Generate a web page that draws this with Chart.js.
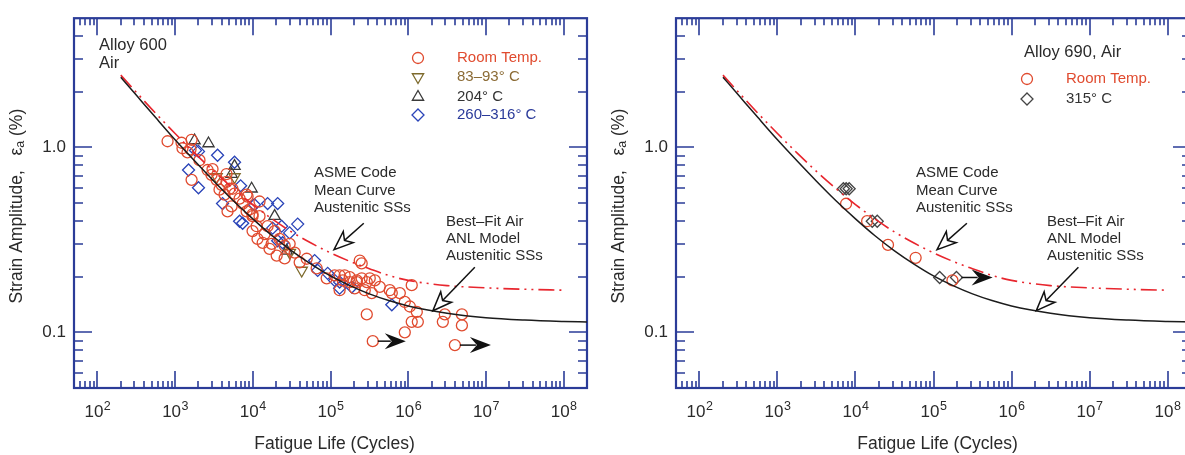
<!DOCTYPE html>
<html><head><meta charset="utf-8">
<script src="https://cdn.jsdelivr.net/npm/chart.js@4.4.1/dist/chart.umd.min.js"></script>
<style>
html,body{margin:0;padding:0;background:#fff;overflow:hidden;width:1185px;height:455px;}
#c1{position:absolute;left:0;top:0;}
#c2{position:absolute;left:590px;top:0;}
</style></head><body>
<canvas id="c1" width="600" height="455"></canvas>
<canvas id="c2" width="610" height="455"></canvas>
<script>
// ---------- axis ticks ----------
const xTickValues = [1e2, 1e3, 1e4, 1e5, 1e6, 1e7, 1e8];
const xTickExponents = ['2', '3', '4', '5', '6', '7', '8'];
const yTickValues = [0.1, 1];
const yTickLabels = ['0.1', '1.0'];
const X_MIN = 50, X_MAX = 2e8, Y_MIN = 0.05, Y_MAX = 5;

// ---------- curves ----------
const bestFitN = [200, 316, 562, 1000, 1778, 3162, 5623, 1e4, 17783, 31623, 56234, 1e5, 177828, 316228, 562341, 1e6, 3.16e6, 1e7, 3.16e7, 1e8, 2e8];
const bestFitStrain = [2.40, 1.92, 1.45, 1.10, 0.847, 0.657, 0.515, 0.411, 0.333, 0.276, 0.234, 0.202, 0.179, 0.1615, 0.1486, 0.139, 0.127, 0.120, 0.1165, 0.1145, 0.1137];
const asmeN = [200, 316, 562, 1000, 1778, 3162, 5623, 1e4, 17783, 31623, 56234, 1e5, 177828, 316228, 562341, 1e6, 3.16e6, 1e7, 3.16e7, 1e8];
const asmeStrain = [2.46, 1.99, 1.53, 1.19, 0.934, 0.742, 0.599, 0.491, 0.410, 0.349, 0.304, 0.269, 0.242, 0.221, 0.203, 0.191, 0.179, 0.174, 0.171, 0.169];

// ---------- Alloy 600 data ----------
const a600Labels = ['Room Temp.', '83\u201393\u00b0 C', '204\u00b0 C', '260\u2013316\u00b0 C'];
const a600RoomN = [800, 1210, 1245, 1445, 1630, 1580, 1630, 2620, 2940, 3420, 3960, 4590, 5020, 3730, 4330, 5820, 6760, 4730, 5330, 8320, 7400, 9100, 9930, 11200, 8320, 12200, 14200, 11500, 17500, 9930, 29800, 34600, 49400, 40100, 66400, 89300, 113000, 144000, 177000, 218000, 238000, 252000, 131000, 131000, 152000, 177000, 218000, 252000, 293000, 320000, 372000, 431000, 205000, 276000, 340000, 579000, 615000, 780000, 1.11e6, 904000, 1.05e6, 1.29e6, 1.33e6, 1.11e6, 904000, 293000, 2.96e6, 2.79e6, 4.91e6, 4.91e6, 350000, 3.99e6, 15500, 19100, 22100, 25700, 13400, 16400, 20300, 25700, 2060, 3030, 4590, 8570, 12200, 9930, 5470];
const a600RoomStrain = [1.08, 1.06, 0.99, 0.94, 1.10, 0.976, 0.668, 0.755, 0.71, 0.668, 0.628, 0.652, 0.598, 0.591, 0.556, 0.562, 0.529, 0.451, 0.48, 0.556, 0.497, 0.462, 0.425, 0.375, 0.451, 0.425, 0.34, 0.32, 0.301, 0.353, 0.301, 0.27, 0.25, 0.239, 0.222, 0.196, 0.2035, 0.191, 0.187, 0.187, 0.2445, 0.236, 0.169, 0.2035, 0.2035, 0.199, 0.191, 0.196, 0.187, 0.196, 0.191, 0.176, 0.173, 0.169, 0.163, 0.169, 0.163, 0.163, 0.18, 0.146, 0.138, 0.129, 0.114, 0.114, 0.1, 0.125, 0.125, 0.114, 0.125, 0.109, 0.0896, 0.0853, 0.375, 0.353, 0.32, 0.294, 0.305, 0.283, 0.26, 0.251, 0.853, 0.764, 0.718, 0.542, 0.51, 0.435, 0.598];
const a600T83N = [3420, 5820, 42600, 30000];
const a600T83Strain = [0.692, 0.692, 0.216, 0.27];
const a600T204N = [2690, 1780, 5330, 5820, 9660, 19100, 27300];
const a600T204Strain = [1.05, 1.09, 0.718, 0.792, 0.598, 0.425, 0.276];
const a600T260N = [2000, 1830, 3520, 1490, 2000, 5820, 6970, 4080, 6760, 10500, 15500, 20900, 7400, 23500, 37800, 29800, 24200, 20900, 18000, 62500, 92000, 131000, 188000, 68400, 113000, 131000, 615000];
const a600T260Strain = [0.952, 0.964, 0.907, 0.755, 0.605, 0.832, 0.62, 0.497, 0.399, 0.49, 0.497, 0.497, 0.389, 0.375, 0.385, 0.345, 0.305, 0.313, 0.366, 0.2445, 0.2085, 0.187, 0.1757, 0.2163, 0.191, 0.1734, 0.1409];
const a600RunoutFromN = [350000, 3.99e6];
const a600RunoutToN = [931000, 1.16e7];
const a600RunoutStrain = [0.0896, 0.0853];

// ---------- Alloy 690 data ----------
const a690Labels = ['Room Temp.', '315\u00b0 C'];
const a690RoomN = [7570, 14100, 26100, 59000, 175000];
const a690RoomStrain = [0.496, 0.399, 0.297, 0.253, 0.191];
const a690T315N = [7000, 7600, 8300, 16400, 19000, 120000, 197000];
const a690T315Strain = [0.598, 0.598, 0.598, 0.399, 0.399, 0.198, 0.198];
const a690RunoutFromN = [197000];
const a690RunoutToN = [573000];
const a690RunoutStrain = [0.198];

// ---------- annotation arrows (data space) ----------
const asmeArrow = [[268000, 0.389], [111000, 0.280]];
const fitArrow = [[7.2e6, 0.225], [2.08e6, 0.131]];

// ---------- styling ----------
const FONTFAM = '"Liberation Sans", Arial, Helvetica, sans-serif';
const BLUE = '#2b3c98';
const RED = '#e04b2f';
const TXT = '#2a2a2a';
function font(sz) { return sz + 'px ' + FONTFAM; }
function zip(a, b) { return a.map((v, i) => ({x: v, y: b[i]})); }

function drawSymbol(ctx, style, x, y, r, rot, color) {
  ctx.save();
  ctx.strokeStyle = color; ctx.lineWidth = 1.3;
  ctx.beginPath();
  if (style === 'circle') { ctx.arc(x, y, r, 0, Math.PI * 2); }
  else if (style === 'rectRot') { ctx.moveTo(x, y - r); ctx.lineTo(x + r, y); ctx.lineTo(x, y + r); ctx.lineTo(x - r, y); ctx.closePath(); }
  else if (style === 'triangle') {
    const s = rot ? -1 : 1;
    for (let i = 0; i < 3; i++) {
      const ang = -Math.PI / 2 + i * 2 * Math.PI / 3;
      const px = x + r * Math.cos(ang), py = y + s * r * Math.sin(ang);
      if (i === 0) ctx.moveTo(px, py); else ctx.lineTo(px, py);
    }
    ctx.closePath();
  }
  ctx.stroke();
  ctx.restore();
}

const decorPlugin = {
  id: 'decor',
  beforeDatasetsDraw(chart, args, o) {
    const ctx = chart.ctx, a = chart.chartArea, xs = chart.scales.x, ys = chart.scales.y;
    ctx.save();
    ctx.strokeStyle = BLUE; ctx.lineWidth = 1.6; ctx.lineCap = 'butt';
    for (let d = 1; d <= 8; d++) for (let k = 1; k <= 9; k++) {
      const v = k * Math.pow(10, d);
      if (v <= X_MIN * 1.001 || v >= X_MAX * 0.999) continue;
      const px = Math.round(xs.getPixelForValue(v));
      const len = k === 1 ? 17 : 7;
      ctx.beginPath();
      ctx.moveTo(px, a.bottom); ctx.lineTo(px, a.bottom - len);
      ctx.moveTo(px, a.top); ctx.lineTo(px, a.top + len);
      ctx.stroke();
    }
    for (let d = -2; d <= 0; d++) for (let k = 1; k <= 9; k++) {
      const v = k * Math.pow(10, d);
      if (v <= Y_MIN * 1.001 || v >= Y_MAX * 0.999) continue;
      const py = Math.round(ys.getPixelForValue(v));
      const len = k === 1 ? 18 : 9;
      ctx.beginPath();
      ctx.moveTo(a.left, py); ctx.lineTo(a.left + len, py);
      ctx.moveTo(a.right, py); ctx.lineTo(a.right - len, py);
      ctx.stroke();
    }
    ctx.lineWidth = 2.2;
    ctx.strokeRect(a.left, a.top, a.right - a.left, a.bottom - a.top);
    ctx.restore();
  },
  afterDatasetsDraw(chart, args, o) {
    const ctx = chart.ctx, a = chart.chartArea, xs = chart.scales.x, ys = chart.scales.y;
    const off = o.offsetX;
    const P = (n, e) => [xs.getPixelForValue(n), ys.getPixelForValue(e)];
    ctx.save();
    ctx.fillStyle = TXT;
    // x tick labels with superscripts
    xTickValues.forEach((v, i) => {
      const px = xs.getPixelForValue(v);
      ctx.font = font(17); const w1 = ctx.measureText('10').width;
      ctx.font = font(12.5); const w2 = ctx.measureText(xTickExponents[i]).width;
      const x0 = px - (w1 + w2) / 2;
      ctx.textBaseline = 'alphabetic'; ctx.textAlign = 'left';
      ctx.font = font(17); ctx.fillText('10', x0, 417);
      ctx.font = font(12.5); ctx.fillText(xTickExponents[i], x0 + w1 + 0.5, 410);
    });
    // x title
    ctx.font = font(17.5); ctx.textAlign = 'center'; ctx.textBaseline = 'middle';
    ctx.fillText('Fatigue Life (Cycles)', (a.left + a.right) / 2 + 4, 444);
    // y title with subscript
    ctx.save();
    ctx.translate(o.yTitleX - off, (a.top + a.bottom) / 2 + 3);
    ctx.rotate(-Math.PI / 2);
    const parts = [['Strain Amplitude,   \u03b5', 17.5, 0], ['a', 12.5, 4], [' (%)', 17.5, 0]];
    let tot = 0;
    parts.forEach(p => { ctx.font = font(p[1]); p.push(ctx.measureText(p[0]).width); tot += p[3]; });
    let cx = -tot / 2;
    ctx.textAlign = 'left'; ctx.textBaseline = 'middle';
    parts.forEach(p => { ctx.font = font(p[1]); ctx.fillText(p[0], cx, p[2]); cx += p[3]; });
    ctx.restore();
    // curves annotation text
    ctx.textAlign = 'left'; ctx.textBaseline = 'middle';
    ctx.font = font(16.5);
    o.title.forEach((t, i) => ctx.fillText(t, o.titleX - off, o.titleY[i]));
    ctx.font = font(15);
    ['ASME Code', 'Mean Curve', 'Austenitic SSs'].forEach((t, i) => ctx.fillText(t, o.asmeX - off, [173, 191, 208][i]));
    ['Best\u2013Fit Air', 'ANL Model', 'Austenitic SSs'].forEach((t, i) => ctx.fillText(t, o.fitX - off, [222, 239, 256][i]));
    // legend
    o.legend.forEach((L, i) => {
      const y = o.legendY[i];
      drawSymbol(ctx, L.style, o.legendSymX - off, y, L.r, L.rot, L.color);
      ctx.fillStyle = L.textColor; ctx.font = font(15);
      ctx.fillText(L.text, o.legendTextX - off, y);
    });
    // hollow annotation arrows
    const hollow = (from, to) => {
      const [x1, y1] = P(from[0], from[1]), [x2, y2] = P(to[0], to[1]);
      const dx = x2 - x1, dy = y2 - y1, len = Math.hypot(dx, dy), ux = dx / len, uy = dy / len;
      const nx = -uy, ny = ux, L = 19, W = 7.5;
      const bx = x2 - ux * L, by = y2 - uy * L;
      ctx.strokeStyle = '#111'; ctx.lineWidth = 1.5;
      ctx.beginPath(); ctx.moveTo(x1, y1); ctx.lineTo(bx + ux * 5, by + uy * 5); ctx.stroke();
      ctx.beginPath();
      ctx.moveTo(x2, y2); ctx.lineTo(bx + nx * W, by + ny * W);
      ctx.lineTo(bx + ux * 5, by + uy * 5);
      ctx.lineTo(bx - nx * W, by - ny * W); ctx.closePath();
      ctx.fillStyle = '#fff'; ctx.fill(); ctx.stroke();
    };
    hollow(asmeArrow[0], asmeArrow[1]);
    hollow(fitArrow[0], fitArrow[1]);
    // run-out arrows
    o.runFrom.forEach((n, i) => {
      const [x1, y1] = P(n, o.runE[i]), [x2, y2] = P(o.runTo[i], o.runE[i]);
      const L = 21, W = 8;
      ctx.strokeStyle = '#111'; ctx.fillStyle = '#111'; ctx.lineWidth = 1.5;
      ctx.beginPath(); ctx.moveTo(x1 + 5, y1); ctx.lineTo(x2 - L + 6, y2); ctx.stroke();
      ctx.beginPath();
      ctx.moveTo(x2, y2); ctx.lineTo(x2 - L, y2 - W); ctx.lineTo(x2 - L + 7, y2); ctx.lineTo(x2 - L, y2 + W); ctx.closePath();
      ctx.fill();
    });
    ctx.restore();
  }
};

function makeChart(id, cfg) {
  const datasets = [
    {data: zip(bestFitN, bestFitStrain), showLine: true, pointRadius: 0, borderColor: '#1c1c1c', borderWidth: 1.5, cubicInterpolationMode: 'monotone', fill: false},
    {data: zip(asmeN, asmeStrain), showLine: true, pointRadius: 0, borderColor: '#e8262e', borderWidth: 1.6, borderDash: [16, 5, 2, 5, 2, 5], cubicInterpolationMode: 'monotone', fill: false}
  ];
  cfg.series.forEach(s => datasets.push({
    label: s.text, data: zip(s.n, s.e), showLine: false, pointStyle: s.style, rotation: s.rot || 0,
    pointRadius: s.r, borderColor: s.color, backgroundColor: 'rgba(0,0,0,0)', pointBorderWidth: 1.3, pointBackgroundColor: 'rgba(0,0,0,0)', pointBorderColor: s.color
  }));
  return new Chart(document.getElementById(id), {
    type: 'scatter',
    data: {datasets},
    options: {
      responsive: false, animation: false, devicePixelRatio: 1, events: [],
      layout: {padding: {left: 0, right: cfg.padRight, top: 14, bottom: 0}},
      plugins: {legend: {display: false}, tooltip: {enabled: false}, decor: cfg},
      scales: {
        x: {type: 'logarithmic', min: X_MIN, max: X_MAX, grid: {display: false, drawTicks: false}, border: {display: false},
            ticks: {display: false}, afterFit(s) { s.height = 67; }},
        y: {type: 'logarithmic', min: Y_MIN, max: Y_MAX, grid: {display: false, drawTicks: false}, border: {display: false},
            afterBuildTicks(s) { s.ticks = yTickValues.map(v => ({value: v})); },
            ticks: {autoSkip: false, padding: 8, color: TXT, font: {family: FONTFAM, size: 17},
                    callback(v, i) { return yTickLabels[i]; }},
            afterFit(s) { s.width = cfg.yWidth; }}
      }
    },
    plugins: [decorPlugin]
  });
}

const leftSeries = [
  {n: a600RoomN, e: a600RoomStrain, style: 'circle', r: 5.5, color: RED, text: a600Labels[0], textColor: RED},
  {n: a600T83N, e: a600T83Strain, style: 'triangle', rot: 180, r: 6.5, color: '#7d6a2c', text: a600Labels[1], textColor: '#8b6b35'},
  {n: a600T204N, e: a600T204Strain, style: 'triangle', r: 6.5, color: '#3a3a3a', text: a600Labels[2], textColor: '#333'},
  {n: a600T260N, e: a600T260Strain, style: 'rectRot', r: 6, color: '#2a44b8', text: a600Labels[3], textColor: '#2a3a9a'}
];
makeChart('c1', {
  offsetX: 0, yWidth: 74, padRight: 13, yTitleX: 17,
  series: leftSeries,
  title: ['Alloy 600', 'Air'], titleX: 99, titleY: [45, 63],
  asmeX: 314, fitX: 446,
  legend: leftSeries, legendSymX: 418, legendTextX: 457, legendY: [58, 77, 97, 115],
  runFrom: a600RunoutFromN, runTo: a600RunoutToN, runE: a600RunoutStrain
});

const rightSeries = [
  {n: a690RoomN, e: a690RoomStrain, style: 'circle', r: 5.5, color: RED, text: a690Labels[0], textColor: RED},
  {n: a690T315N, e: a690T315Strain, style: 'rectRot', r: 6, color: '#444', text: a690Labels[1], textColor: '#333'}
];
makeChart('c2', {
  offsetX: 590, yWidth: 86, padRight: 9, yTitleX: 619,
  series: rightSeries,
  title: ['Alloy 690, Air'], titleX: 1024, titleY: [52],
  asmeX: 916, fitX: 1047,
  legend: rightSeries, legendSymX: 1027, legendTextX: 1066, legendY: [79, 99],
  runFrom: a690RunoutFromN, runTo: a690RunoutToN, runE: a690RunoutStrain
});
</script>
</body></html>
